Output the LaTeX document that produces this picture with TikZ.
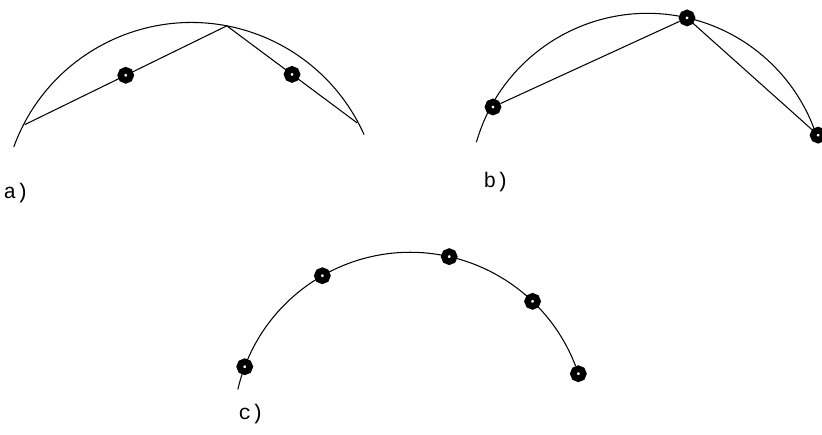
\documentclass[tikz,border=0pt]{standalone}
\usepackage{fontspec}
\newfontfamily\tagfont{Liberation Mono}
\usetikzlibrary{calc}
\tikzset{
  bead/.style={circle, draw, line width=5.5pt, fill=white, minimum size=0.3cm, inner sep=0pt},
  tag/.style={font=\tagfont\fontsize{18}{18}\selectfont, anchor=west, inner sep=0pt}
}
\begin{document}
\begin{tikzpicture}[x=0.03cm, y=0.03cm, line width=0.9pt]
    \useasboundingbox (0,0) rectangle (822,434);
    % Define coordinates
    \coordinate (Ca) at (191.4,222.5);
    \coordinate (Cb) at (649.4,242.1);
    \coordinate (Cc) at (410.3,4.7);

    % a) two chords, beads at their midpoints
    \draw ($(Ca)+(160:189)$) arc[start angle=160, end angle=24, radius=189];
    \coordinate (a1) at ($(Ca)+(152.5:188)$);
    \coordinate (a2) at ($(Ca)+(79.2:189)$);
    \coordinate (a3) at ($(Ca)+(28.1:188)$);
    \draw (a1) -- (a2) -- (a3);
    \node[bead] (am1) at ($(a1)!0.5!(a2)$) {};
    \node[bead] (am2) at ($(a2)!0.5!(a3)$) {};
    \node[tag] (ta) at (3,241) {a)};

    % b) beads on the arc, joined by chords
    \draw ($(Cb)+(164:180)$) arc[start angle=164, end angle=18.6, radius=178];
    \node[bead] (b1) at ($(Cb)+(151.5:178)$) {};
    \node[bead] (b2) at ($(Cb)+(77.8:178)$) {};
    \node[bead] (b3) at ($(Cb)+(18.6:178)$) {};
    \draw (b1) -- (b2) -- (b3);
    \node[tag] (tb) at (483,252) {b)};

    % c) beads on the arc only
    \draw ($(Cc)+(167:177)$) arc[start angle=167, end angle=21, radius=177];
    \foreach \ang [count=\i] in {159.3, 119.8, 77.3, 46.3, 18.3}
        \node[bead] (c\i) at ($(Cc)+(\ang:177)$) {};
    \node[tag] (tc) at (238,20) {c)};
\end{tikzpicture}
\end{document}
